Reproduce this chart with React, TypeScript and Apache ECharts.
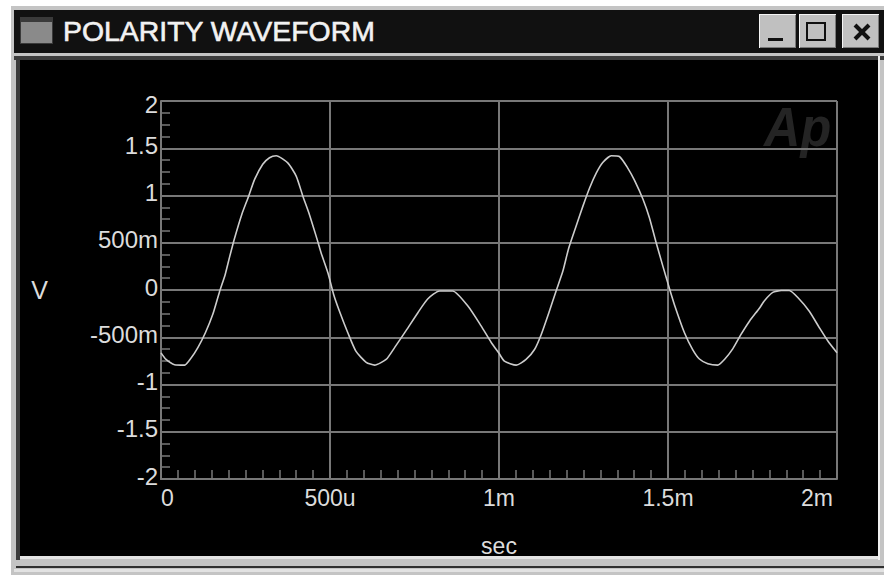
import React, { useEffect, useRef } from "react";
import * as echarts from "echarts";

const windowTitle = "POLARITY WAVEFORM";
const xAxisName = "sec";
const yAxisName = "V";
const xTickLabels = ["0", "500u", "1m", "1.5m", "2m"];
const yTickLabels = ["-2", "-1.5", "-1", "-500m", "0", "500m", "1", "1.5", "2"];

const timeMicroseconds = [
  0, 15, 40, 70, 89, 109, 131, 153, 173, 190, 203, 217, 239, 259, 277, 301, 321, 341, 375, 400, 420, 439, 459, 474, 494, 511,
  528, 553, 577, 607, 632, 666, 691, 725, 760, 789, 824, 863, 908, 947, 977, 1000, 1016, 1051, 1080, 1105, 1125, 1149, 1169,
  1189, 1206, 1228, 1248, 1268, 1288, 1307, 1332, 1357, 1381, 1401, 1426, 1445, 1465, 1485, 1504, 1519, 1549, 1573, 1593,
  1618, 1647, 1667, 1692, 1716, 1741, 1771, 1786, 1810, 1835, 1859, 1884, 1918, 1948, 1973, 2000,
];
const voltageValues = [
  -0.665, -0.735, -0.79, -0.795, -0.72, -0.61, -0.455, -0.26, -0.02, 0.165, 0.35, 0.54, 0.8, 0.99, 1.17, 1.33, 1.4, 1.42,
  1.345, 1.205, 0.99, 0.8, 0.57, 0.39, 0.18, -0.05, -0.225, -0.455, -0.65, -0.765, -0.795, -0.735, -0.61, -0.43, -0.24,
  -0.095, -0.01, -0.01, -0.17, -0.38, -0.555, -0.67, -0.753, -0.795, -0.735, -0.63, -0.47, -0.225, -0.01, 0.2, 0.44, 0.675,
  0.885, 1.08, 1.24, 1.35, 1.42, 1.41, 1.29, 1.16, 0.96, 0.765, 0.5, 0.25, 0.02, -0.155, -0.455, -0.63, -0.73, -0.78, -0.795,
  -0.735, -0.62, -0.47, -0.33, -0.19, -0.11, -0.025, -0.005, -0.005, -0.08, -0.225, -0.4, -0.54, -0.665,
];

const FONT = '"Liberation Sans", Arial, sans-serif';
const GRID_COLOR = "#787878";
const LABEL_COLOR = "#dcdcdc";

const rect = (x: number, y: number, width: number, height: number, fill: string) => ({
  type: "rect",
  silent: true,
  z: -1,
  shape: { x, y, width, height },
  style: { fill },
});

const button = (x: number, y: number, width: number, height: number) => [
  rect(x, y, width, height, "#f4f4f4"),
  rect(x + 1, y + 1, width - 1, height - 1, "#7a7a7a"),
  rect(x + 1, y + 1, width - 2, height - 2, "#c0c0c0"),
];

const line = (x1: number, y1: number, x2: number, y2: number) => ({
  type: "line",
  silent: true,
  z: -1,
  shape: { x1, y1, x2, y2 },
  style: { stroke: "#101010", lineWidth: 4 },
});

const chrome = [
  rect(11, 6, 873, 569, "#c4c4c4"),
  rect(14, 10, 870, 43, "#111111"),
  rect(14, 56, 870, 4, "#3c3c3c"),
  rect(16, 56, 4, 504, "#3c3c3c"),
  rect(20, 60, 858, 496, "#000000"),
  rect(20, 556, 858, 3, "#e4e4e4"),
  rect(878, 56, 2, 504, "#f0f0f0"),
  rect(16, 566, 868, 2, "#303030"),
  rect(14, 569, 870, 3, "#e2e2e2"),
  rect(20, 17, 33, 27, "#3a3a3a"),
  rect(21, 22, 31, 21, "#8a8a8a"),
  ...button(759, 14, 37, 34),
  ...button(799, 14, 37, 34),
  ...button(842, 14, 37, 34),
  rect(768, 38, 15, 3, "#101010"),
  rect(806, 22, 20, 19, "#101010"),
  rect(808, 24, 16, 15, "#c0c0c0"),
  line(855, 25, 869, 39),
  line(869, 25, 855, 39),
  {
    type: "text",
    silent: true,
    z: -1,
    x: 63,
    y: 31,
    style: {
      text: windowTitle,
      font: `28.4px ${FONT}`,
      fill: "#f2f2f2",
      stroke: "#f2f2f2",
      lineWidth: 0.6,
      textVerticalAlign: "middle",
    },
  },
  {
    type: "text",
    silent: true,
    z: -1,
    x: 764,
    y: 127,
    scaleX: 0.9,
    style: {
      text: "Ap",
      font: `italic bold 56px ${FONT}`,
      fill: "#242424",
      textVerticalAlign: "middle",
    },
  },
];

export default function App() {
  const ref = useRef<HTMLDivElement>(null);
  useEffect(() => {
    const chart = echarts.init(ref.current!, null, { renderer: "svg" });
    chart.setOption({
      animation: false,
      backgroundColor: "#ffffff",
      graphic: { elements: chrome },
      grid: { left: 161, top: 101, width: 676, height: 378, containLabel: false },
      xAxis: {
        type: "value",
        min: 0,
        max: 2000,
        interval: 500,
        name: xAxisName,
        nameLocation: "middle",
        nameGap: 55,
        nameTextStyle: { color: LABEL_COLOR, fontFamily: FONT, fontSize: 23 },
        axisLine: { show: true, onZero: false, lineStyle: { color: GRID_COLOR, width: 2 } },
        axisTick: { show: false, inside: true },
        minorTick: { show: true, splitNumber: 10, length: 9, lineStyle: { color: GRID_COLOR, width: 1.5 } },
        splitLine: { show: true, lineStyle: { color: GRID_COLOR, width: 2 } },
        axisLabel: {
          color: LABEL_COLOR,
          fontFamily: FONT,
          fontSize: 23,
          margin: 7,
          alignMinLabel: "left",
          alignMaxLabel: "right",
          formatter: (_v: number, i: number) =>
            i === xTickLabels.length - 1 ? `{last|${xTickLabels[i]}}` : xTickLabels[i],
          rich: { last: { color: LABEL_COLOR, fontFamily: FONT, fontSize: 23, padding: [0, 4, 0, 0] } },
        },
      },
      yAxis: {
        type: "value",
        min: -2,
        max: 2,
        interval: 0.5,
        name: yAxisName,
        nameLocation: "middle",
        nameRotate: 0,
        nameGap: 113,
        nameTextStyle: { color: LABEL_COLOR, fontFamily: FONT, fontSize: 25 },
        axisLine: { show: true, onZero: false, lineStyle: { color: GRID_COLOR, width: 2 } },
        axisTick: { show: false, inside: true },
        minorTick: { show: true, splitNumber: 4, length: 9, lineStyle: { color: GRID_COLOR, width: 1.5 } },
        splitLine: { show: true, lineStyle: { color: GRID_COLOR, width: 2 } },
        axisLabel: {
          color: LABEL_COLOR,
          fontFamily: FONT,
          fontSize: 24,
          margin: 3,
          lineHeight: 6,
          verticalAlign: "bottom",
          verticalAlignMaxLabel: "top",
          formatter: (_v: number, i: number) => yTickLabels[i],
        },
      },
      series: [
        {
          type: "line",
          data: timeMicroseconds.map((t, i) => [t, voltageValues[i]]),
          showSymbol: false,
          smooth: 0.2,
          z: 5,
          lineStyle: { color: "#cccccc", width: 1.6 },
        },
      ],
    });
    return () => chart.dispose();
  }, []);
  return <div ref={ref} style={{ position: "fixed", left: 0, top: 0, width: 884, height: 576 }} />;
}
